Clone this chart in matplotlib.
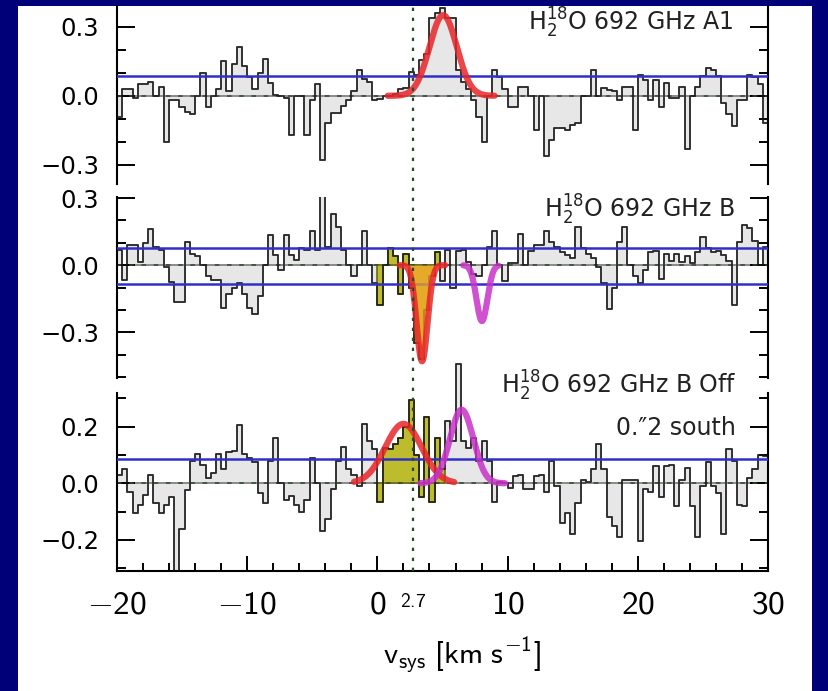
import numpy as np
import matplotlib.pyplot as plt
from matplotlib.patches import Rectangle
from matplotlib.lines import Line2D
from matplotlib.ticker import FixedLocator
import matplotlib.transforms as mtrans

# computer modern sans for the velocity axis (used via math_fontfamily='custom')
plt.rcParams['mathtext.rm'] = 'cmss10'
plt.rcParams['mathtext.sf'] = 'cmss10'
plt.rcParams['mathtext.it'] = 'cmss10'
plt.rcParams['mathtext.bf'] = 'cmss10'

# velocity grid of the spectra (km/s): first channel edge, width, count
v_first, dv, n_chan = -20.0, 0.4, 125
v_sys = 2.7

flux_a1 = [
  -0.09, 0.03, 0.03, -0.01, 0.05, 0.05, 0.06, 0.0, 0.04, -0.20,
  -0.02, -0.02, -0.05, -0.07, -0.08, 0.0, 0.10, -0.05, 0.0, 0.03,
  0.15, 0.02, 0.14, 0.21, 0.13, 0.08, 0.03, 0.10, 0.16, 0.055,
  0.005, 0.0, -0.01, -0.17, 0.0, 0.0, -0.17, -0.02, 0.05, -0.28,
  -0.12, -0.075, -0.075, -0.045, -0.02, 0.02, 0.11, 0.075, 0.06, -0.02,
  -0.015, 0.0, 0.0, 0.01, 0.03, 0.035, 0.105, 0.09, 0.155, 0.18,
  0.34, 0.36, 0.38, 0.34, 0.34, 0.11, 0.06, 0.03, -0.02, -0.09,
  -0.20, 0.0, 0.11, 0.08, 0.03, -0.05, -0.05, 0.04, 0.04, 0.0,
  -0.15, 0.0, -0.26, -0.19, -0.14, -0.14, -0.15, -0.125, -0.12, 0.0,
  0.0, 0.11, 0.0, 0.035, 0.025, 0.02, -0.02, 0.04, 0.04, -0.15,
  0.09, 0.07, -0.02, 0.07, -0.05, 0.055, -0.01, -0.01, 0.04, -0.23,
  0.0, 0.04, 0.085, 0.12, 0.11, 0.085, -0.03, -0.08, -0.13, -0.02,
  -0.02, 0.09, 0.08, 0.05, -0.12,
]

flux_b = [
  0.07, -0.065, 0.09, 0.09, 0.015, 0.10, 0.16, 0.08, 0.07, -0.01,
  -0.075, -0.165, -0.165, 0.105, 0.05, 0.04, 0.0, -0.05, -0.065, -0.065,
  -0.19, -0.13, -0.10, -0.08, -0.13, -0.19, -0.22, -0.14, 0.0, 0.135,
  0.045, -0.02, 0.135, 0.045, 0.025, 0.075, 0.07, 0.155, 0.07, 0.32,
  0.08, 0.23, 0.17, 0.07, 0.0, -0.05, 0.0, 0.155, 0.0, -0.08,
  -0.18, 0.0, 0.075, 0.04, -0.13, 0.05, -0.10, -0.35, -0.42, -0.20,
  -0.05, 0.06, -0.07, 0.07, -0.10, 0.065, 0.07, 0.015, -0.04, -0.05,
  0.0, 0.08, 0.155, 0.0, -0.07, 0.01, 0.01, 0.14, 0.0, 0.065,
  0.09, 0.09, 0.155, 0.105, 0.08, 0.06, 0.045, 0.03, 0.17, 0.075,
  0.05, 0.03, -0.01, -0.08, -0.195, -0.10, 0.105, 0.17, 0.0, -0.05,
  -0.08, -0.02, 0.06, 0.065, -0.06, 0.05, 0.02, 0.05, 0.015, 0.04,
  0.01, 0.06, 0.125, 0.075, 0.06, 0.065, 0.045, 0.02, -0.18, 0.105,
  0.18, 0.165, 0.11, 0.0, 0.08,
]

flux_off = [
  0.03, 0.05, -0.03, -0.105, -0.075, -0.04, 0.03, -0.07, -0.105, -0.075,
  -0.05, -0.32, -0.16, -0.025, 0.08, 0.105, 0.065, 0.02, 0.035, 0.105,
  0.05, 0.11, 0.115, 0.205, 0.105, 0.09, 0.075, -0.035, -0.07, 0.08,
  0.16, 0.0, -0.06, -0.045, -0.075, -0.10, -0.06, 0.09, 0.0, -0.17,
  -0.125, -0.02, 0.08, 0.13, 0.05, 0.03, -0.01, 0.21, 0.15, 0.12,
  -0.065, 0.125, 0.12, 0.14, 0.16, 0.20, 0.295, 0.10, -0.047, 0.235,
  -0.065, 0.16, 0.05, 0.22, 0.15, 0.42, 0.15, 0.125, 0.16, 0.08,
  0.15, 0.08, -0.065, 0.005, 0.0, -0.018, 0.025, 0.03, -0.02, -0.02,
  0.025, 0.03, -0.03, 0.08, -0.01, -0.14, -0.105, -0.18, -0.07, 0.01,
  0.005, 0.05, 0.14, 0.05, -0.12, -0.15, -0.19, 0.01, 0.01, 0.01,
  -0.205, -0.02, -0.03, 0.06, -0.05, 0.06, 0.065, -0.08, 0.01, 0.055,
  -0.08, -0.19, -0.01, 0.075, -0.01, -0.035, -0.18, 0.12, 0.08, -0.075,
  -0.08, 0.02, 0.05, 0.10, 0.095,
]

# channels shaded olive (first, last channel index)
window_b = (50, 61)
window_off = (50, 62)

# gaussian fits: centre, peak, sigma, drawn from, drawn to (km/s)
fit_a1_red = (5.05, 0.35, 1.05, 0.8, 9.0)
fit_b_red = (3.43, -0.43, 0.42, 1.7, 5.2)
fit_b_mag = (8.03, -0.25, 0.42, 6.6, 9.3)
fit_off_red = (2.0, 0.21, 1.4, -1.8, 5.9)
fit_off_mag = (6.47, 0.26, 0.9, 3.3, 9.8)

# noise levels (blue lines)
rms_a1 = [0.087]
rms_b = [0.077, -0.085]
rms_off = [0.086]

x_ticks = [-20, -10, 0, 10, 20, 30]
x_ticklabels = [r'$-20$', r'$-10$', r'$0$', r'$10$', r'$20$', r'$30$']

W, H = 829, 691
navy = '#000078'
blue = '#3030c8'
red = '#e8262a'
magenta = '#c832c8'
olive = '#bcbc2c'


def gauss(fit):
  c, a, s, lo, hi = fit
  v = np.linspace(lo, hi, 300)
  return v, a*np.exp(-0.5*((v - c)/s)**2)


def spectrum(ax, flux, window=None):
  '''grey filled step spectrum, optional olive line window'''
  edges = v_first + dv*np.arange(n_chan + 1)
  y = np.append(flux, flux[-1])
  ax.fill_between(edges, y, 0, step='post', facecolor='#e7e7e7', edgecolor='#8a8a8a', lw=1.4, zorder=1)
  if window:
    i0, i1 = window
    yw = np.append(flux[i0:i1 + 1], flux[i1])
    ax.fill_between(edges[i0:i1 + 2], yw, 0, step='post', facecolor=olive, edgecolor='#6a6a12', lw=1.2, zorder=2)
  ax.step(edges, y, where='post', color='#141414', lw=1.2, alpha=0.85, zorder=3)
  ax.axhline(0, color='#2e4a2e', lw=1.1, ls=(0, (3, 5)), zorder=2)


def fitline(ax, fit, color, fill=None):
  v, g = gauss(fit)
  if fill:
    ax.fill_between(v, g, 0, color=fill, alpha=0.75, lw=0, zorder=4)
  ax.plot(v, g, color=color, lw=4.5, alpha=0.85, solid_capstyle='round', zorder=5)


def frame(ax, ylim, major, minor, spine_lim=None):
  ax.set_xlim(-20, 30)
  ax.set_ylim(*ylim)
  ax.set_facecolor('none')
  ax.spines['top'].set_visible(False)
  ax.spines['bottom'].set_visible(False)
  for s in ('left', 'right'):
    ax.spines[s].set_linewidth(1.5)
    if spine_lim:
      ax.spines[s].set_bounds(*spine_lim)
  ax.yaxis.set_major_locator(FixedLocator(major))
  ax.yaxis.set_minor_locator(FixedLocator(minor))
  ax.yaxis.set_major_formatter(lambda val, _: f'{val:.1f}'.replace('-', '\u2212'))
  ax.tick_params(axis='y', which='both', direction='in', left=True, right=True, width=1.4, labelsize=17.5, pad=13)
  ax.tick_params(axis='y', which='major', length=13)
  ax.tick_params(axis='y', which='minor', length=6.5)
  ax.tick_params(axis='x', which='both', bottom=False, top=False, labelbottom=False)


def label(ax, x, y, s):
  ax.text(x, y, s, ha='right', va='baseline', fontsize=17, color='#222222', clip_on=False, zorder=6)


fig = plt.figure(figsize=(W/100, H/100), dpi=100, facecolor=navy)
fig.add_artist(Rectangle((18/W, 0), (812 - 18)/W, (H - 6)/H, transform=fig.transFigure, facecolor='white', edgecolor='none', zorder=-5))

left, width = 117/W, (768 - 117)/W
ax1 = fig.add_axes([left, 1 - 184/H, width, (184 - 6)/H])
ax2 = fig.add_axes([left, 1 - 378/H, width, (378 - 197)/H])
ax3 = fig.add_axes([left, 1 - 571/H, width, (571 - 356)/H])

# panel A1
spectrum(ax1, flux_a1)
for r in rms_a1:
  ax1.axhline(r, color=blue, lw=1.8, zorder=4)
fitline(ax1, fit_a1_red, red)
frame(ax1, (-0.383, 0.39), [-0.3, 0.0, 0.3], [-0.2, -0.1, 0.1, 0.2])
label(ax1, 27.3, 0.285, r'H$_2^{18}$O 692 GHz A1')

# panel B
spectrum(ax2, flux_b, window_b)
for r in rms_b:
  ax2.axhline(r, color=blue, lw=1.8, zorder=4)
fitline(ax2, fit_b_red, red, fill='#f4a428')
fitline(ax2, fit_b_mag, magenta)
frame(ax2, (-0.505, 0.305), [-0.3, 0.0, 0.3], [-0.5, -0.4, -0.2, -0.1, 0.1, 0.2])
label(ax2, 27.45, 0.215, r'H$_2^{18}$O 692 GHz B')

# panel B off
spectrum(ax3, flux_off, window_off)
for r in rms_off:
  ax3.axhline(r, color=blue, lw=1.8, zorder=4)
fitline(ax3, fit_off_red, red)
fitline(ax3, fit_off_mag, magenta)
frame(ax3, (-0.31, 0.45), [-0.2, 0.0, 0.2], [-0.3, -0.1, 0.1, 0.3], spine_lim=(-0.31, 0.32))
ax3.spines['bottom'].set_visible(True)
ax3.spines['bottom'].set_linewidth(1.5)
ax3.set_xticks(x_ticks)
ax3.set_xticklabels(x_ticklabels, math_fontfamily='custom')
ax3.set_xticks(np.arange(-20, 31, 2), minor=True)
ax3.tick_params(axis='x', which='both', direction='in', bottom=True, labelbottom=True, width=1.4, labelsize=24, pad=12)
ax3.tick_params(axis='x', which='major', length=11)
ax3.tick_params(axis='x', which='minor', length=6)
off = mtrans.offset_copy(mtrans.blended_transform_factory(ax3.transData, ax3.transAxes), fig=fig, y=-15, units='points')
ax3.text(v_sys, 0, r'$2.7$', transform=off, ha='center', va='top', fontsize=14, math_fontfamily='custom')
ax3.set_xlabel(r'$\mathrm{v_{sys}}\ \mathrm{[km\ s^{-1}]}$', fontsize=22, math_fontfamily='custom', labelpad=10, x=0.53)
label(ax3, 27.55, 0.318, r'H$_2^{18}$O 692 GHz B Off')
label(ax3, 27.5, 0.17, '0.\u20332 south')

# systemic velocity, dotted across all panels
tr = mtrans.blended_transform_factory(ax3.transData, fig.transFigure)
fig.add_artist(Line2D([v_sys, v_sys], [1 - 571/H, 1 - 6/H], transform=tr, color='#2a4a2a', lw=1.6, ls=(0, (1.5, 3)), zorder=10))

fig.savefig('out.png', dpi=100, facecolor=navy)
